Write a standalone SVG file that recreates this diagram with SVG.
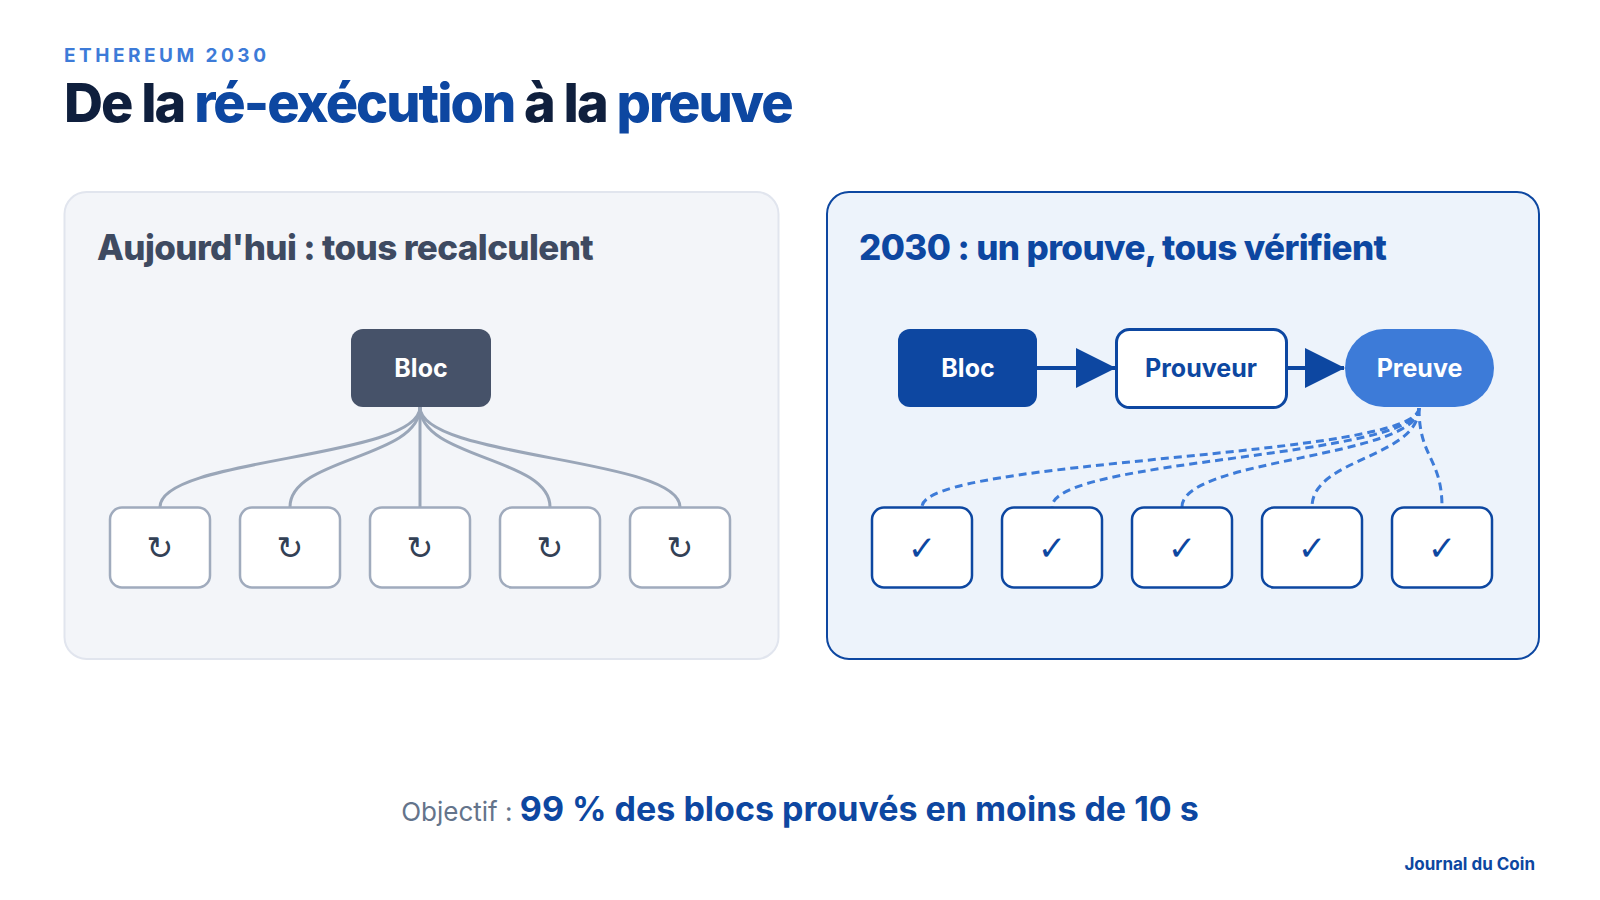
<svg xmlns="http://www.w3.org/2000/svg" width="1600" height="900" viewBox="0 0 1600 900">
  <style>
    .sans { font-family: Inter, "Noto Sans", "Liberation Sans", sans-serif; }
    .sym { font-family: "DejaVu Sans", "Noto Sans", sans-serif; }
    .oldbox { fill: #ffffff; stroke: #a0abbd; stroke-width: 2.5; }
    .newbox { fill: #ffffff; stroke: #0d47a1; stroke-width: 2.5; }
    .oldlink { fill: none; stroke: #9aa6b8; stroke-width: 3; }
    .newlink { fill: none; stroke: #3d7bd8; stroke-width: 3; stroke-dasharray: 8 5; }
    .arrow { fill: none; stroke: #0d47a1; stroke-width: 4; }
  </style>
  <defs>
    <marker id="tri" markerUnits="userSpaceOnUse" markerWidth="40" markerHeight="40" viewBox="0 0 40 40" refX="39" refY="20" orient="auto">
      <path d="M0,0 L40,20 L0,40 Z" fill="#0d47a1"/>
    </marker>
  </defs>
  <rect width="1600" height="900" fill="#ffffff"/>

  <!-- header -->
  <text class="sans" x="64" y="62" font-size="19" font-weight="700" letter-spacing="3.5" fill="#3d7bd8">ETHEREUM 2030</text>
  <text class="sans" x="64" y="122" font-size="54" font-weight="800" letter-spacing="-2" fill="#0f1f3d">De la <tspan fill="#0d47a1">ré-exécution</tspan> à la <tspan fill="#0d47a1">preuve</tspan></text>

  <!-- panels -->
  <g id="panel-left">
    <rect x="64.5" y="192" width="714" height="467" rx="22" fill="#f3f5f9" stroke="#e1e5ee" stroke-width="2"/>
    <text class="sans" x="97" y="260" font-size="35" font-weight="800" letter-spacing="-0.6" fill="#3e4a61">Aujourd'hui : tous recalculent</text>
  </g>
  <g id="panel-right">
    <rect x="827" y="192" width="712" height="467" rx="22" fill="#edf3fb" stroke="#0d47a1" stroke-width="2"/>
    <text class="sans" x="859" y="260" font-size="35" font-weight="800" letter-spacing="-0.6" fill="#0d47a1">2030 : un prouve, tous vérifient</text>
  </g>

  <!-- connectors -->
  <g id="connectors">
    <path class="oldlink" d="M420,407 C420,459 160,457 160,507"/>
    <path class="oldlink" d="M420,407 C420,459 290,457 290,507"/>
    <path class="oldlink" d="M420,407 L420,507"/>
    <path class="oldlink" d="M420,407 C420,459 550,457 550,507"/>
    <path class="oldlink" d="M420,407 C420,459 680,457 680,507"/>

    <path class="arrow" d="M1037,368 L1115,368" marker-end="url(#tri)"/>
    <path class="arrow" d="M1287,368 L1344,368" marker-end="url(#tri)"/>

    <path class="newlink" d="M1419,408 C1419,458 922,458 922,507"/>
    <path class="newlink" d="M1419,408 C1419,458 1052,458 1052,507"/>
    <path class="newlink" d="M1419,408 C1419,458 1182,458 1182,507"/>
    <path class="newlink" d="M1419,408 C1419,458 1312,458 1312,507"/>
    <path class="newlink" d="M1419,408 C1419,458 1442,458 1442,507"/>
  </g>

  <!-- left nodes -->
  <g id="old-bloc">
    <rect x="351" y="329" width="140" height="78" rx="12" fill="#465269"/>
    <text class="sans" x="421" y="377" font-size="25" font-weight="700" text-anchor="middle" fill="#ffffff">Bloc</text>
  </g>
  <g id="old-n1"><rect class="oldbox" x="110" y="507.5" width="100" height="80" rx="12"/><text class="sym" x="160" y="559" font-size="32" text-anchor="middle" fill="#334155">↻</text></g>
  <g id="old-n2"><rect class="oldbox" x="240" y="507.5" width="100" height="80" rx="12"/><text class="sym" x="290" y="559" font-size="32" text-anchor="middle" fill="#334155">↻</text></g>
  <g id="old-n3"><rect class="oldbox" x="370" y="507.5" width="100" height="80" rx="12"/><text class="sym" x="420" y="559" font-size="32" text-anchor="middle" fill="#334155">↻</text></g>
  <g id="old-n4"><rect class="oldbox" x="500" y="507.5" width="100" height="80" rx="12"/><text class="sym" x="550" y="559" font-size="32" text-anchor="middle" fill="#334155">↻</text></g>
  <g id="old-n5"><rect class="oldbox" x="630" y="507.5" width="100" height="80" rx="12"/><text class="sym" x="680" y="559" font-size="32" text-anchor="middle" fill="#334155">↻</text></g>

  <!-- right nodes -->
  <g id="new-bloc">
    <rect x="898" y="329" width="139" height="78" rx="12" fill="#0d47a1"/>
    <text class="sans" x="968" y="377" font-size="25" font-weight="700" text-anchor="middle" fill="#ffffff">Bloc</text>
  </g>
  <g id="prouveur">
    <rect x="1116.5" y="329.5" width="170" height="78" rx="13" fill="#ffffff" stroke="#0d47a1" stroke-width="3"/>
    <text class="sans" x="1201" y="377" font-size="25" font-weight="700" text-anchor="middle" fill="#0d47a1">Prouveur</text>
  </g>
  <g id="preuve">
    <rect x="1345" y="329" width="149" height="78" rx="39" fill="#3d7bd8"/>
    <text class="sans" x="1419.5" y="377" font-size="25" font-weight="700" text-anchor="middle" fill="#ffffff">Preuve</text>
  </g>
  <g id="new-n1"><rect class="newbox" x="872" y="507.5" width="100" height="80" rx="12"/><text class="sym" x="922" y="560" font-size="34" text-anchor="middle" fill="#0d47a1">✓</text></g>
  <g id="new-n2"><rect class="newbox" x="1002" y="507.5" width="100" height="80" rx="12"/><text class="sym" x="1052" y="560" font-size="34" text-anchor="middle" fill="#0d47a1">✓</text></g>
  <g id="new-n3"><rect class="newbox" x="1132" y="507.5" width="100" height="80" rx="12"/><text class="sym" x="1182" y="560" font-size="34" text-anchor="middle" fill="#0d47a1">✓</text></g>
  <g id="new-n4"><rect class="newbox" x="1262" y="507.5" width="100" height="80" rx="12"/><text class="sym" x="1312" y="560" font-size="34" text-anchor="middle" fill="#0d47a1">✓</text></g>
  <g id="new-n5"><rect class="newbox" x="1392" y="507.5" width="100" height="80" rx="12"/><text class="sym" x="1442" y="560" font-size="34" text-anchor="middle" fill="#0d47a1">✓</text></g>

  <!-- footer -->
  <text class="sans" x="800" y="821" text-anchor="middle" fill="#0d47a1" font-size="34" font-weight="700" letter-spacing="0"><tspan fill="#64748b" font-size="26" font-weight="400">Objectif : </tspan>99 % des blocs prouvés en moins de 10 s</text>
  <text class="sans" x="1535" y="870" text-anchor="end" fill="#0d47a1" font-size="17" font-weight="700">Journal du Coin</text>
</svg>
